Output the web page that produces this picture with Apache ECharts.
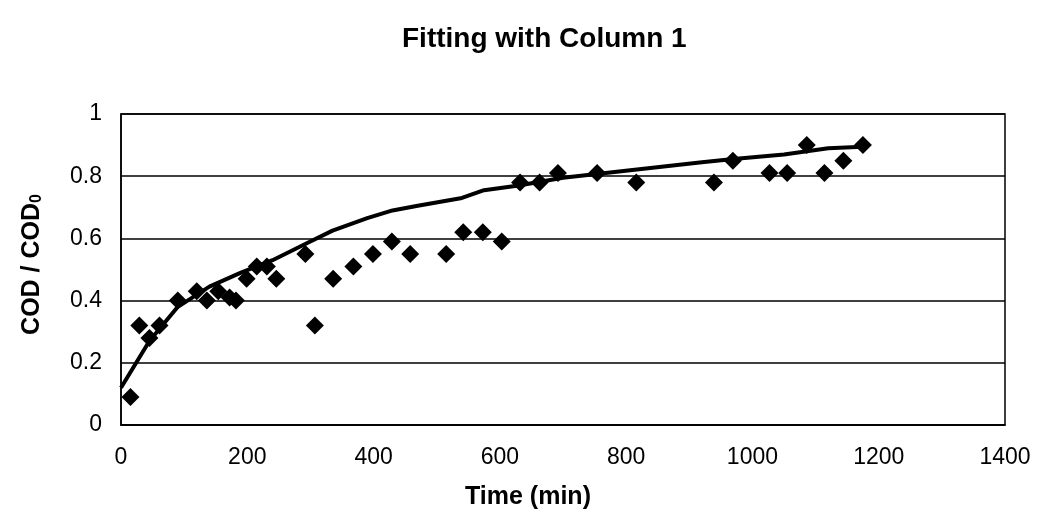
<!DOCTYPE html>
<html>
<head>
<meta charset="utf-8">
<script src="https://cdn.jsdelivr.net/npm/echarts@6/dist/echarts.min.js"></script>
<style>html,body{margin:0;padding:0;background:#fff;}#c{width:1049px;height:519px;}</style>
</head>
<body>
<div id="c"></div>
<script>
// Measured points (time in min, COD/COD0)
const obsTime = [15, 29, 45, 61, 90, 120, 136, 154, 172, 182, 199, 215, 231, 246, 292, 307, 336, 368, 399, 429, 458, 515, 542, 573, 603, 632, 663, 692, 754, 816, 939, 969, 1027, 1055, 1086, 1114, 1144, 1175];
const obsRatio = [0.09, 0.32, 0.28, 0.32, 0.40, 0.43, 0.40, 0.43, 0.41, 0.40, 0.47, 0.51, 0.51, 0.47, 0.55, 0.32, 0.47, 0.51, 0.55, 0.59, 0.55, 0.55, 0.62, 0.62, 0.59, 0.78, 0.78, 0.81, 0.81, 0.78, 0.78, 0.85, 0.81, 0.81, 0.9, 0.81, 0.85, 0.9];
// Fitted curve
const fitTime = [0, 45, 90, 140, 190, 240, 295, 335, 390, 430, 470, 540, 575, 630, 700, 810, 920, 970, 1050, 1120, 1175];
const fitRatio = [0.12, 0.27, 0.38, 0.445, 0.49, 0.53, 0.585, 0.625, 0.665, 0.69, 0.705, 0.73, 0.755, 0.77, 0.795, 0.82, 0.845, 0.855, 0.87, 0.89, 0.895];
const xTicks = [0, 200, 400, 600, 800, 1000, 1200, 1400];
const yTicks = [0, 0.2, 0.4, 0.6, 0.8, 1];

const font = 'Liberation Sans, Arial, sans-serif';
const chart = echarts.init(document.getElementById('c'), null, {renderer: 'canvas'});
chart.setOption({
  animation: false,
  backgroundColor: '#fff',
  title: {
    text: 'Fitting with Column 1',
    left: 397, top: 20,
    textStyle: {fontFamily: font, fontSize: 28, fontWeight: 'bold', color: '#000'}
  },
  grid: {left: 121, right: 44, top: 114, bottom: 94, show: true, borderColor: '#000', borderWidth: 1.5, backgroundColor: 'transparent'},
  xAxis: {
    type: 'value', min: xTicks[0], max: xTicks[xTicks.length - 1], interval: 200,
    name: 'Time (min)', nameLocation: 'middle', nameGap: 60,
    nameTextStyle: {fontFamily: font, fontSize: 25, fontWeight: 'bold', color: '#000', padding: [0, 70, 0, 0]},
    axisLine: {show: true, lineStyle: {color: '#000', width: 1.5}},
    axisTick: {show: false},
    axisLabel: {fontFamily: font, fontSize: 23, color: '#000', margin: 21,
      formatter: v => String(v)},
    splitLine: {show: false}
  },
  yAxis: {
    type: 'value', min: yTicks[0], max: yTicks[yTicks.length - 1], interval: 0.2,
    name: '{a|COD / COD}{b|0}', nameLocation: 'middle', nameGap: 76, nameRotate: 90,
    nameTextStyle: {fontFamily: font, fontSize: 25, fontWeight: 'bold', color: '#000', padding: [0, 0, 0, 10],
      rich: {
        a: {fontFamily: font, fontSize: 25, fontWeight: 'bold', color: '#000', lineHeight: 30, verticalAlign: 'bottom'},
        b: {fontFamily: font, fontSize: 16, fontWeight: 'bold', color: '#000', lineHeight: 30, verticalAlign: 'bottom', padding: [12, 0, 0, 0]}
      }},
    axisLine: {show: true, lineStyle: {color: '#000', width: 1.5}},
    axisTick: {show: false},
    axisLabel: {fontFamily: font, fontSize: 23, color: '#000', margin: 19,
      formatter: v => (Math.round(v * 10) / 10).toString()},
    splitLine: {show: true, lineStyle: {color: '#000', width: 1.5}}
  },
  series: [
    {
      type: 'scatter', symbol: 'diamond', symbolSize: 18,
      itemStyle: {color: '#000', opacity: 1},
      data: obsTime.map((t, i) => [t, obsRatio[i]]),
      z: 3
    },
    {
      type: 'line', showSymbol: false, symbol: 'none',
      lineStyle: {color: '#000', width: 4},
      data: fitTime.map((t, i) => [t, fitRatio[i]]),
      z: 2
    }
  ]
});
</script>
</body>
</html>
